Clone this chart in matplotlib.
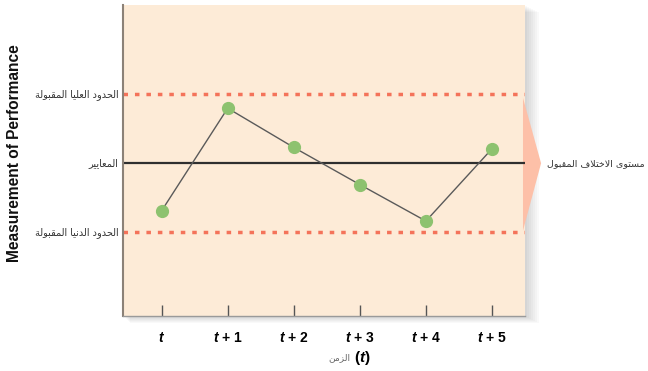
import matplotlib
matplotlib.use("Agg")
from matplotlib import pyplot as plt
from matplotlib import transforms
from matplotlib.patches import Polygon, Rectangle

plt.rcParams['mathtext.fontset'] = 'custom'
plt.rcParams['mathtext.it'] = 'Liberation Sans:italic:bold'
plt.rcParams['mathtext.rm'] = 'Liberation Sans:bold'

# data (standard = 0, acceptable limits = +/-1)
periods = ['$t$', '$t$ + 1', '$t$ + 2', '$t$ + 3', '$t$ + 4', '$t$ + 5']
performance = [-0.69, 0.80, 0.23, -0.31, -0.84, 0.21]
standard = 0.0
upper_limit = 1.0
lower_limit = -1.0

label_upper = "الحدود العليا المقبولة"
label_standard = "المعايير"
label_lower = "الحدود الدنيا المقبولة"
label_range = "مستوى الاختلاف المقبول"
label_time = "الزمن"
label_y = "Measurement of Performance"

# very small arabic shaper: matplotlib has no bidi / joining support
FORMS = {
	'ا': (0xFE8D, 0xFE8E, None, None),
	'ب': (0xFE8F, 0xFE90, 0xFE91, 0xFE92),
	'ة': (0xFE93, 0xFE94, None, None),
	'ت': (0xFE95, 0xFE96, 0xFE97, 0xFE98),
	'ح': (0xFEA1, 0xFEA2, 0xFEA3, 0xFEA4),
	'خ': (0xFEA5, 0xFEA6, 0xFEA7, 0xFEA8),
	'د': (0xFEA9, 0xFEAA, None, None),
	'ر': (0xFEAD, 0xFEAE, None, None),
	'ز': (0xFEAF, 0xFEB0, None, None),
	'س': (0xFEB1, 0xFEB2, 0xFEB3, 0xFEB4),
	'ع': (0xFEC9, 0xFECA, 0xFECB, 0xFECC),
	'ف': (0xFED1, 0xFED2, 0xFED3, 0xFED4),
	'ق': (0xFED5, 0xFED6, 0xFED7, 0xFED8),
	'ل': (0xFEDD, 0xFEDE, 0xFEDF, 0xFEE0),
	'م': (0xFEE1, 0xFEE2, 0xFEE3, 0xFEE4),
	'ن': (0xFEE5, 0xFEE6, 0xFEE7, 0xFEE8),
	'و': (0xFEED, 0xFEEE, None, None),
	'ى': (0xFEEF, 0xFEF0, None, None),
	'ي': (0xFEF1, 0xFEF2, 0xFEF3, 0xFEF4),
}

def shape(s):
	out = []
	i = 0
	while i < len(s):
		c = s[i]
		if c not in FORMS:
			out.append(c)
			i += 1
			continue
		prev = s[i-1] if i > 0 else None
		join_prev = prev in FORMS and FORMS[prev][2] is not None
		if c == 'ل' and i + 1 < len(s) and s[i+1] == 'ا':
			out.append(chr(0xFEFC if join_prev else 0xFEFB))
			i += 2
			continue
		nxt = s[i+1] if i + 1 < len(s) else None
		iso, fin, ini, med = FORMS[c]
		join_next = ini is not None and nxt in FORMS
		if join_prev and join_next:
			g = med
		elif join_prev:
			g = fin
		elif join_next:
			g = ini
		else:
			g = iso
		out.append(chr(g))
		i += 1
	return ''.join(reversed(out))

W, H = 648, 371
fig = plt.figure(figsize=(W/100, H/100), dpi=100)
fig.patch.set_facecolor('white')

ax_l, ax_r, ax_t, ax_b = 123, 525, 5, 316
ax = fig.add_axes([ax_l/W, 1 - ax_b/H, (ax_r - ax_l)/W, (ax_b - ax_t)/H])
ax.set_facecolor('#fdebd7')

# soft shadow around the panel
for k in range(1, 8):
	fig.patches.append(Rectangle(((ax_l + k)/W, 1 - (ax_b + k)/H), (ax_r - ax_l + k)/W, (ax_b - ax_t)/H,
		transform=fig.transFigure, facecolor='#000000', alpha=0.025, edgecolor='none', zorder=-1))

x = list(range(len(periods)))
ax.axhline(upper_limit, color='#f4735a', lw=2.5, dashes=(1.3, 2.0), dash_capstyle='butt', zorder=2)
ax.axhline(lower_limit, color='#f4735a', lw=2.5, dashes=(1.3, 2.0), dash_capstyle='butt', zorder=2)
ax.axhline(standard, color='#2f2f2f', lw=1.6, zorder=2)
ax.plot(x, performance, color='#5a5a5a', lw=1.0, zorder=3)
ax.plot(x, performance, 'o', color='#8dc26f', ms=8.5, mec='#8dc26f', zorder=4)

ax.set_xlim(-0.585, 5.5)
ax.set_ylim(-2.22, 2.30)
ax.set_yticks([])
ax.set_xticks(x)
ax.set_xticklabels(periods, fontweight='bold', family='Liberation Sans', fontsize=10)
ax.tick_params(axis='x', direction='in', length=8, width=1, color='#555555', pad=11)

for side in ['top', 'right']:
	ax.spines[side].set_visible(False)
ax.spines['left'].set_color('#8c8278')
ax.spines['left'].set_linewidth(1.5)
ax.spines['bottom'].set_color('#9a9a9a')
ax.spines['bottom'].set_linewidth(1.0)

# arrow wedge showing the acceptable range
blend = transforms.blended_transform_factory(ax.transAxes, ax.transData)
wedge = Polygon([(0.995, upper_limit - 0.05), (1.04, standard), (0.995, lower_limit + 0.02)], closed=True,
	transform=blend, facecolor='#fdc0a8', edgecolor='none', clip_on=False, zorder=1)
ax.add_patch(wedge)

ax.text(-0.012, upper_limit, shape(label_upper), transform=blend, ha='right', va='center', fontsize=7, color='#333333')
ax.text(-0.012, standard, shape(label_standard), transform=blend, ha='right', va='center', fontsize=7, color='#333333')
ax.text(-0.012, lower_limit, shape(label_lower), transform=blend, ha='right', va='center', fontsize=7, color='#333333')
ax.text(1.055, standard, shape(label_range), transform=blend, ha='left', va='center', fontsize=6.8, color='#333333')

ax.text(0.565, -0.135, shape(label_time), transform=ax.transAxes, ha='right', va='center', fontsize=6.5, color='#666666')
ax.text(0.575, -0.135, '($t$)', transform=ax.transAxes, ha='left', va='center', fontsize=11, fontweight='bold',
	family='Liberation Sans')

fig.text(15/W, 1 - 153/H, label_y, rotation=90, ha='center', va='center', fontsize=11.2, fontweight='bold',
	family='Liberation Sans', color='#111111')

fig.savefig('out.png', dpi=100)
